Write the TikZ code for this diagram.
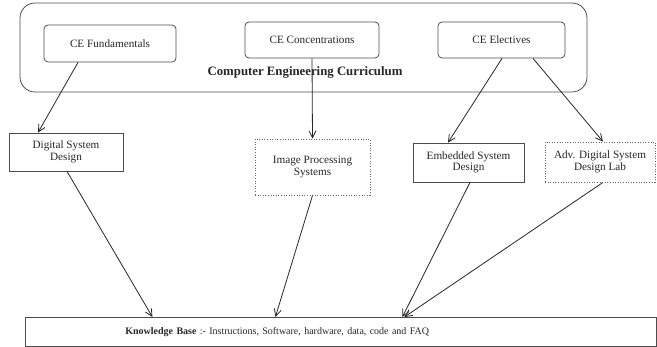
\documentclass[tikz,border=0pt]{standalone}
\usepackage{fontspec}
\setmainfont{Liberation Serif}
\usetikzlibrary{arrows.meta}
\begin{document}
\begin{tikzpicture}[x=1pt,y=1pt,
  every node/.style={font=\fontsize{11.2}{11.5}\selectfont, text=black!85},
  rbox/.style={draw=black!70, line width=0.8pt, rounded corners=4pt, inner sep=0pt},
  sbox/.style={draw=black!70, line width=0.8pt, inner sep=0pt, align=center},
  dbox/.style={draw=black!60, line width=0.8pt, dash pattern=on 1pt off 1.6pt, inner sep=0pt, align=center},
  conn/.style={draw=black!85, line width=0.8pt, -{Straight Barb[length=7pt,width=7pt]}}]
\useasboundingbox (0,0) rectangle (657,-347);
% outer curriculum box
\node[draw=black!70, line width=0.8pt, rounded corners=15pt, minimum width=567, minimum height=89, inner sep=0pt] (outer) at (303.5,-47.5) {};
\node[rbox, minimum width=132, minimum height=37] (fund) at (110,-43.5) {CE Fundamentals};
\node[rbox, minimum width=134, minimum height=36] (conc) at (312,-40) {CE Concentrations};
\node[rbox, minimum width=127, minimum height=36] (elec) at (501.5,-40) {CE Electives};
\node[font=\bfseries\fontsize{12.8}{14}\selectfont] (title) at (305,-72) {Computer Engineering Curriculum};
% second row
\node[sbox, minimum width=114, minimum height=38] (dsd) at (66,-152) {Digital System\\Design};
\node[dbox, minimum width=115, minimum height=56] (ips) at (312.5,-167) {Image Processing\\Systems};
\node[sbox, minimum width=111, minimum height=39] (esd) at (468.5,-162.5) {Embedded System\\Design};
\node[dbox, minimum width=110, minimum height=40] (adv) at (600,-162) {Adv. Digital System\\Design Lab};
% knowledge base
\node[draw=black!70, line width=0.8pt, anchor=north west, minimum width=631, minimum height=29, inner xsep=10pt, inner ysep=0pt, text width=611, align=left, font=\fontsize{10}{12}\selectfont] (kb) at (25,-317) {\hspace*{90pt}\textbf{Knowledge Base} :- Instructions, Software, hardware, data, code and FAQ};
% connectors
\draw[conn] ([xshift=-32pt]fund.south) -- ([xshift=-28pt]dsd.north);
\draw[conn] (conc.south) -- (ips.north);
\draw[conn] ([xshift=0.5pt]elec.south) -- ([xshift=-20.5pt]esd.north);
\draw[conn] ([xshift=31.5pt]elec.south) -- ([xshift=3pt]adv.north);
\draw[conn] ([xshift=1pt]dsd.south) -- ([xshift=-188.5pt]kb.north);
\draw[conn] (ips.south) -- ([xshift=-65.5pt]kb.north);
\draw[conn] ([xshift=1.5pt]esd.south) -- ([xshift=61.5pt]kb.north);
\draw[conn] ([xshift=3pt]adv.south) -- ([xshift=63.5pt]kb.north);
\end{tikzpicture}
\end{document}
